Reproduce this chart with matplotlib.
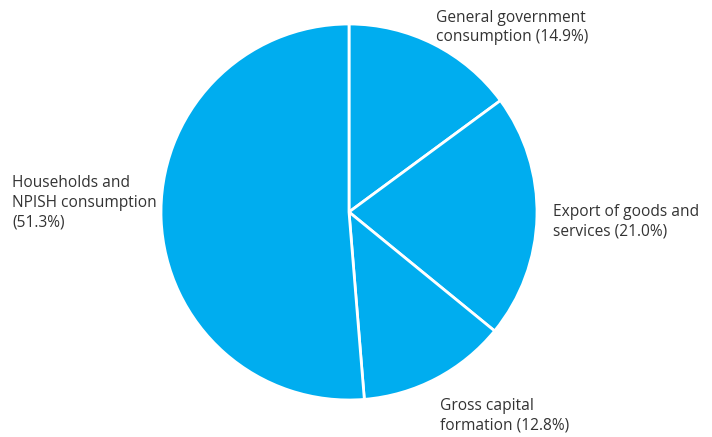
import matplotlib
matplotlib.use("Agg")
import matplotlib.pyplot as plt

categories = ["General government\nconsumption (14.9%)",
              "Export of goods and\nservices (21.0%)",
              "Gross capital\nformation (12.8%)",
              "Households and\nNPISH consumption\n(51.3%)"]
values = [14.9, 21.0, 12.8, 51.3]

W, H = 712, 437
fig = plt.figure(figsize=(W/100, H/100), dpi=100)
cx, cy, r = 349, 212, 188
ax = fig.add_axes([(cx - r)/W, (H - cy - r)/H, 2*r/W, 2*r/H])
ax.pie(values, startangle=90, counterclock=False, colors=["#00adef"]*4,
       wedgeprops=dict(edgecolor="white", linewidth=2))
ax.set_xlim(-1, 1); ax.set_ylim(-1, 1)
ax.set_aspect("equal")
ax.axis("off")

label_pos = [(436, 27.5), (553, 222), (440, 416), (12, 203)]
for txt, (x, y) in zip(categories, label_pos):
    fig.text(x/W, 1 - y/H, txt, ha="left", va="center", fontsize=11.2,
             family="Open Sans", color="#333333", linespacing=1.3)

fig.savefig("out.png", dpi=100)
